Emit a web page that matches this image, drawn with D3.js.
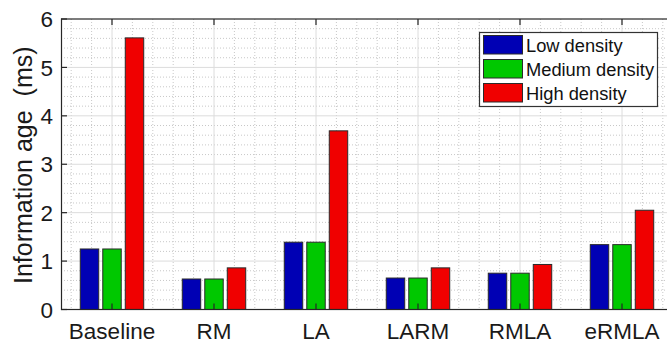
<!DOCTYPE html>
<html>
<head>
<meta charset="utf-8">
<script src="https://cdn.jsdelivr.net/npm/d3@7/dist/d3.min.js"></script>
<style>
  html, body { margin: 0; padding: 0; background: #fff; }
  svg { display: block; font-family: "Liberation Sans", Arial, Helvetica, sans-serif; }
</style>
</head>
<body>
<svg id="chart" width="667" height="344"></svg>
<script>
// Information age per scheme, three vehicle densities
const categories = ["Baseline", "RM", "LA", "LARM", "RMLA", "eRMLA"];
const seriesNames = ["Low density", "Medium density", "High density"];
const lowDensity = [1.25, 0.63, 1.39, 0.65, 0.75, 1.34];
const mediumDensity = [1.25, 0.63, 1.39, 0.65, 0.75, 1.34];
const highDensity = [5.61, 0.86, 3.69, 0.86, 0.93, 2.05];
const yTicks = [0, 1, 2, 3, 4, 5, 6];
const seriesColors = ["#0000b4", "#00c800", "#f00000"];

const seriesValues = [lowDensity, mediumDensity, highDensity];

const svg = d3.select("#chart");
const pL = 61, pT = 19, pB = 309.5, pR = 673;

const x = d3.scaleLinear().domain([0.5, categories.length + 0.5]).range([pL, pR]);
const y = d3.scaleLinear().domain([0, 6]).range([pB, pT]);
const sub = d3.scaleBand().domain(seriesNames)
  .range([-33.75, 33.75]).paddingInner(0.18).paddingOuter(0.09);

// grid: minor dotted, major solid
const g = svg.append("g");
const minorX = d3.range(0.6, categories.length + 0.5, 0.2).filter(v => Math.abs(v - Math.round(v)) > 1e-6);
const minorY = d3.range(0.2, 6, 0.2).filter(v => Math.abs(v - Math.round(v)) > 1e-6);
g.selectAll(".mx").data(minorX).join("line")
  .attr("x1", d => x(d)).attr("x2", d => x(d)).attr("y1", pT).attr("y2", pB)
  .attr("stroke", "#c8c8c8").attr("stroke-width", 1).attr("stroke-dasharray", "1,2");
g.selectAll(".my").data(minorY).join("line")
  .attr("x1", pL).attr("x2", pR).attr("y1", d => y(d)).attr("y2", d => y(d))
  .attr("stroke", "#c8c8c8").attr("stroke-width", 1).attr("stroke-dasharray", "1,2");
g.selectAll(".gx").data(d3.range(1, categories.length + 1)).join("line")
  .attr("x1", d => x(d)).attr("x2", d => x(d)).attr("y1", pT).attr("y2", pB)
  .attr("stroke", "#dcdcdc").attr("stroke-width", 1);
g.selectAll(".gy").data(yTicks.slice(1, -1)).join("line")
  .attr("x1", pL).attr("x2", pR).attr("y1", d => y(d)).attr("y2", d => y(d))
  .attr("stroke", "#dcdcdc").attr("stroke-width", 1);

// bars
const bars = svg.append("g");
seriesValues.forEach((vals, si) => {
  bars.selectAll(".b" + si).data(vals).join("rect")
    .attr("x", (d, i) => x(i + 1) + sub(seriesNames[si]))
    .attr("width", sub.bandwidth())
    .attr("y", d => y(d))
    .attr("height", d => y(0) - y(d))
    .attr("fill", seriesColors[si])
    .attr("stroke", "#2a2a2a").attr("stroke-width", 1);
});

// axes box with inward ticks
const axisColor = "#262626";
const ax = svg.append("g");
ax.append("rect").attr("x", pL + 0.5).attr("y", pT).attr("width", pR - pL)
  .attr("height", pB - pT).attr("fill", "none").attr("stroke", axisColor).attr("stroke-width", 1.2);
const tl = 6;
ax.selectAll(".tyl").data(yTicks).join("line")
  .attr("x1", pL).attr("x2", pL + tl).attr("y1", d => y(d)).attr("y2", d => y(d))
  .attr("stroke", axisColor).attr("stroke-width", 1.2);
ax.selectAll(".tyr").data(yTicks).join("line")
  .attr("x1", pR - tl).attr("x2", pR).attr("y1", d => y(d)).attr("y2", d => y(d))
  .attr("stroke", axisColor).attr("stroke-width", 1.2);
ax.selectAll(".txb").data(d3.range(1, categories.length + 1)).join("line")
  .attr("x1", d => x(d)).attr("x2", d => x(d)).attr("y1", pB).attr("y2", pB - tl)
  .attr("stroke", axisColor).attr("stroke-width", 1.2);
ax.selectAll(".txt").data(d3.range(1, categories.length + 1)).join("line")
  .attr("x1", d => x(d)).attr("x2", d => x(d)).attr("y1", pT).attr("y2", pT + tl)
  .attr("stroke", axisColor).attr("stroke-width", 1.2);

// tick labels
ax.selectAll(".ly").data(yTicks).join("text")
  .attr("x", 53).attr("y", d => y(d)).attr("dy", "0.36em")
  .attr("text-anchor", "end").attr("font-size", 22.5).attr("fill", "#1a1a1a")
  .text(d => d);
ax.selectAll(".lx").data(categories).join("text")
  .attr("x", (d, i) => x(i + 1)).attr("y", 339)
  .attr("text-anchor", "middle").attr("font-size", 22.5).attr("fill", "#1a1a1a")
  .text(d => d);

// y axis title
svg.append("text")
  .attr("transform", "translate(32," + ((pT + pB) / 2 + 1) + ") rotate(-90)")
  .attr("text-anchor", "middle").attr("font-size", 25).attr("fill", "#1a1a1a")
  .attr("xml:space", "preserve")
  .text("Information age  (ms)");

// legend
const lg = svg.append("g");
lg.append("rect").attr("x", 479.5).attr("y", 32.5).attr("width", 178).attr("height", 74)
  .attr("fill", "#fff").attr("stroke", "#333").attr("stroke-width", 1.2);
seriesNames.forEach((name, i) => {
  const yy = 35 + i * 24;
  lg.append("rect").attr("x", 483.5).attr("y", yy + 0.5).attr("width", 39).attr("height", 18.5)
    .attr("fill", seriesColors[i]).attr("stroke", "#2a2a2a").attr("stroke-width", 1);
  lg.append("text").attr("x", 526).attr("y", yy + 10).attr("dy", "0.36em")
    .attr("font-size", 18.3).attr("fill", "#111").text(name);
});
</script>
</body>
</html>
